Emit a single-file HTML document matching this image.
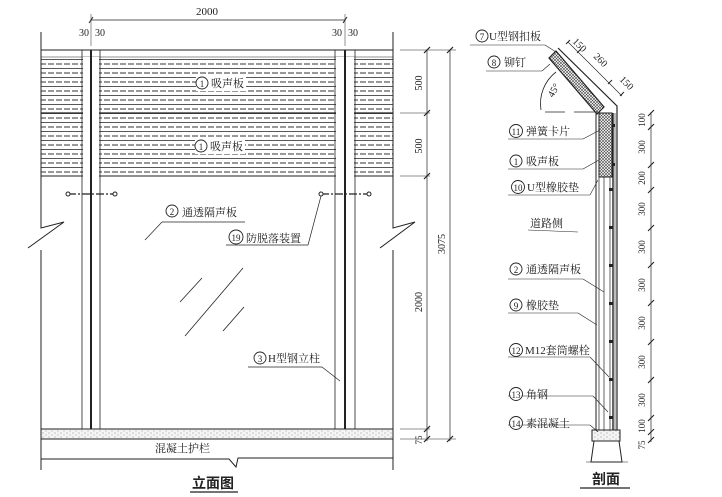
<!DOCTYPE html>
<html><head><meta charset="utf-8"><style>
html,body{margin:0;padding:0;background:#fff}
svg{display:block}
text{font-family:"Liberation Serif","Noto Serif CJK SC","Noto Sans CJK SC",serif;fill:#222}
</style></head><body>
<svg width="722" height="497" viewBox="0 0 722 497" xmlns="http://www.w3.org/2000/svg">
<defs>
<pattern id="hl" width="8" height="9" patternUnits="userSpaceOnUse">
<line x1="0" y1="1" x2="6" y2="1" stroke="#333" stroke-width="1"/>
<line x1="0" y1="5.5" x2="8" y2="5.5" stroke="#444" stroke-width="0.9"/>
</pattern>
<pattern id="xh" width="3" height="3" patternUnits="userSpaceOnUse">
<rect width="3" height="3" fill="#fff"/><path d="M0 0L3 3M3 0L0 3" stroke="#444" stroke-width="0.6"/>
</pattern>
<pattern id="conc" width="6" height="4" patternUnits="userSpaceOnUse">
<rect width="6" height="4" fill="#f4f4f4"/><circle cx="1" cy="1" r="0.5" fill="#777"/><circle cx="4" cy="3" r="0.5" fill="#888"/>
</pattern>
</defs>
<g stroke="#222" fill="none" stroke-width="1">
<rect x="41" y="57" width="352" height="119" fill="url(#hl)" stroke="none"/>
<line x1="41" y1="50" x2="393" y2="50"/>
<line x1="41" y1="57" x2="393" y2="57" stroke-width="0.6"/>
<line x1="41" y1="113" x2="393" y2="113" stroke-width="1.2"/>
<line x1="41" y1="176" x2="393" y2="176"/>
<rect x="196" y="75" width="50" height="16" fill="#fff" stroke="none"/>
<rect x="195" y="138" width="50" height="16" fill="#fff" stroke="none"/>
<polyline points="41,32 41,228 64,222 28,248"/>
<polyline points="41,250 41,470"/>
<polyline points="393,32 393,228 415,222 380,248"/>
<polyline points="393,250 393,470"/>
<line x1="82" y1="50" x2="82" y2="429" stroke-width="0.8"/>
<line x1="91" y1="50" x2="91" y2="429" stroke-width="2"/>
<line x1="100" y1="50" x2="100" y2="429" stroke-width="0.8"/>
<line x1="335" y1="50" x2="335" y2="429" stroke-width="0.8"/>
<line x1="345" y1="50" x2="345" y2="429" stroke-width="2"/>
<line x1="355" y1="50" x2="355" y2="429" stroke-width="0.8"/>
<rect x="83" y="57" width="7" height="343" fill="#fff" stroke="none"/>
<rect x="92" y="57" width="7" height="343" fill="#fff" stroke="none"/>
<rect x="336" y="57" width="8" height="343" fill="#fff" stroke="none"/>
<rect x="346" y="57" width="8" height="343" fill="#fff" stroke="none"/>
<rect x="41" y="429" width="352" height="10" fill="url(#conc)"/>
<polyline points="41,459 229,459 236,467 238,458 393,458"/>
<line x1="68" y1="194" x2="115" y2="194" stroke-dasharray="8,2,2,2" stroke-width="1.3"/>
<circle cx="68" cy="194" r="2" fill="#fff"/><circle cx="115" cy="194" r="2" fill="#fff"/>
<line x1="321" y1="194" x2="369" y2="194" stroke-dasharray="8,2,2,2" stroke-width="1.3"/>
<circle cx="321" cy="194" r="2" fill="#fff"/><circle cx="369" cy="194" r="2" fill="#fff"/>
<line x1="180" y1="302" x2="202" y2="278" stroke-width="0.8"/>
<line x1="185" y1="336" x2="243" y2="268" stroke-width="0.8"/>
<line x1="223" y1="331" x2="244" y2="307" stroke-width="0.8"/>
<line x1="145" y1="240" x2="162" y2="222" stroke-width="0.7"/><line x1="162" y1="222" x2="245" y2="222" stroke-width="0.7"/>
<line x1="226" y1="245" x2="308" y2="245" stroke-width="0.7"/><line x1="308" y1="245" x2="321" y2="196" stroke-width="0.7"/>
<line x1="248" y1="367" x2="322" y2="367" stroke-width="0.7"/><line x1="322" y1="367" x2="340" y2="381" stroke-width="0.7"/>
<line x1="91" y1="20" x2="345" y2="20" stroke-width="0.7"/>
<line x1="89" y1="23" x2="93" y2="17"/><line x1="343" y1="23" x2="347" y2="17"/>
<line x1="91" y1="14" x2="91" y2="46" stroke-width="0.5"/><line x1="345" y1="14" x2="345" y2="46" stroke-width="0.5"/>
<line x1="427" y1="50" x2="427" y2="441" stroke-width="0.7"/>
<line x1="450" y1="50" x2="450" y2="441" stroke-width="0.7"/>
<g stroke-width="1.2">
<line x1="424" y1="53" x2="430" y2="47"/><line x1="424" y1="116" x2="430" y2="110"/><line x1="424" y1="179" x2="430" y2="173"/>
<line x1="424" y1="432" x2="430" y2="426"/><line x1="424" y1="442" x2="430" y2="436"/>
<line x1="447" y1="53" x2="453" y2="47"/><line x1="447" y1="442" x2="453" y2="436"/>
</g>
<line x1="400" y1="50" x2="456" y2="50" stroke-width="0.5"/>
<line x1="400" y1="113" x2="430" y2="113" stroke-width="0.5"/>
<line x1="400" y1="176" x2="430" y2="176" stroke-width="0.5"/>
<line x1="400" y1="429" x2="430" y2="429" stroke-width="0.5"/>
<line x1="400" y1="439" x2="456" y2="439" stroke-width="0.5"/>
<line x1="190" y1="492" x2="238" y2="492" stroke-width="1.2"/>

<!-- SECTION -->
<polygon points="556,51 604,107 597,114 549,58" fill="url(#xh)" stroke-width="1.2"/>
<polyline points="558,48 617,106 617,432" stroke-width="1.2"/>
<line x1="545" y1="112" x2="565" y2="112" stroke-width="0.8"/><line x1="574" y1="112" x2="598" y2="112" stroke-width="0.8"/>
<path d="M 541 110 A 40 40 0 0 1 556 72" stroke-width="0.8"/>
<rect x="599" y="113" width="13" height="64" fill="url(#xh)"/>
<line x1="596" y1="113" x2="596" y2="430"/>
<line x1="599" y1="177" x2="599" y2="430" stroke-width="0.7"/>
<line x1="604" y1="177" x2="604" y2="430" stroke-width="0.7"/>
<line x1="610" y1="177" x2="610" y2="430" stroke-width="0.7"/>
<line x1="613" y1="113" x2="613" y2="430" stroke-width="1.4"/>
<line x1="615" y1="113" x2="615" y2="430" stroke-width="0.6"/>
<g fill="#222" stroke="none">
<rect x="612" y="124" width="3" height="3"/><rect x="612" y="163" width="3" height="3"/><rect x="609" y="188" width="4" height="3"/><rect x="609" y="226" width="4" height="3"/><rect x="609" y="264" width="4" height="3"/><rect x="609" y="302" width="4" height="3"/><rect x="609" y="340" width="4" height="3"/><rect x="609" y="378" width="4" height="3"/><rect x="609" y="416" width="4" height="3"/>
</g>
<rect x="592" y="430" width="28" height="11" fill="url(#conc)"/>
<polyline points="594,441 591,462 622,462 619,441"/>
<line x1="586" y1="462" x2="628" y2="462" stroke-width="0.6"/>
<line x1="580" y1="488" x2="630" y2="488" stroke-width="1.2"/>
<line x1="651" y1="112" x2="651" y2="442" stroke-width="0.7"/>
<g stroke-width="1.1">
<line x1="648" y1="116" x2="654" y2="110"/><line x1="648" y1="130" x2="654" y2="124"/><line x1="648" y1="168" x2="654" y2="162"/><line x1="648" y1="193" x2="654" y2="187"/><line x1="648" y1="231" x2="654" y2="225"/><line x1="648" y1="268" x2="654" y2="262"/><line x1="648" y1="306" x2="654" y2="300"/><line x1="648" y1="345" x2="654" y2="339"/><line x1="648" y1="383" x2="654" y2="377"/><line x1="648" y1="421" x2="654" y2="415"/><line x1="648" y1="435" x2="654" y2="429"/><line x1="648" y1="443" x2="654" y2="437"/>
</g>
<line x1="568" y1="42" x2="622" y2="96" stroke-width="0.6"/>
<line x1="566" y1="44" x2="570" y2="40"/><line x1="577" y1="53" x2="581" y2="49"/><line x1="608" y1="84" x2="612" y2="80"/><line x1="620" y1="96" x2="624" y2="92"/>
<g stroke-width="0.6">
<line x1="470" y1="45" x2="545" y2="45"/><line x1="545" y1="45" x2="556" y2="52"/>
<line x1="486" y1="71" x2="542" y2="71"/><line x1="542" y1="71" x2="550" y2="64"/>
<line x1="508" y1="139" x2="583" y2="139"/><line x1="583" y1="139" x2="600" y2="130"/>
<line x1="508" y1="169" x2="583" y2="169"/><line x1="583" y1="169" x2="599" y2="160"/>
<line x1="508" y1="195" x2="590" y2="195"/><line x1="590" y1="195" x2="598" y2="180"/>
<line x1="528" y1="230" x2="578" y2="232"/>
<line x1="508" y1="279" x2="583" y2="279"/><line x1="583" y1="279" x2="604" y2="292"/>
<line x1="508" y1="313" x2="578" y2="313"/><line x1="578" y1="313" x2="597" y2="325"/>
<line x1="508" y1="357" x2="590" y2="357"/><line x1="590" y1="357" x2="609" y2="377"/>
<line x1="508" y1="396" x2="593" y2="396"/><line x1="593" y1="396" x2="608" y2="412"/>
<line x1="508" y1="425" x2="590" y2="425"/><line x1="590" y1="425" x2="598" y2="432"/>
</g>
<g stroke-width="0.9" fill="#fff">
<circle cx="202" cy="83" r="6"/><circle cx="201" cy="146" r="6"/><circle cx="172" cy="211" r="6"/><circle cx="236" cy="237" r="7"/><circle cx="260" cy="358" r="6"/>
<circle cx="482" cy="36" r="6"/><circle cx="494" cy="62" r="6"/><circle cx="516" cy="131" r="6.5"/><circle cx="516" cy="161" r="6"/><circle cx="518" cy="187" r="6.5"/><circle cx="516" cy="269" r="6"/><circle cx="516" cy="305" r="6"/><circle cx="516" cy="350" r="6.5"/><circle cx="516" cy="394" r="6.5"/><circle cx="516" cy="423" r="6.5"/>
</g>
</g>
<g font-size="10">
<text x="207" y="15" font-size="11" text-anchor="middle">2000</text>
<text x="79" y="36">30</text><text x="95" y="36">30</text>
<text x="332" y="36">30</text><text x="348" y="36">30</text>
<text x="202" y="87" text-anchor="middle" font-size="9">1</text><text x="211" y="87" font-size="11">吸声板</text>
<text x="201" y="150" text-anchor="middle" font-size="9">1</text><text x="210" y="150" font-size="11">吸声板</text>
<text x="172" y="215" text-anchor="middle" font-size="9">2</text><text x="182" y="216" font-size="11">通透隔声板</text>
<text x="236" y="241" text-anchor="middle" font-size="9">19</text><text x="246" y="242" font-size="11">防脱落装置</text>
<text x="260" y="362" text-anchor="middle" font-size="9">3</text><text x="268" y="362" font-size="11">H型钢立柱</text>
<text x="155" y="452" font-size="11">混凝土护栏</text>
<text x="192" y="488" font-size="14" font-weight="bold" style="font-family:'Noto Sans CJK SC',sans-serif">立面图</text>
<text transform="translate(422,83) rotate(-90)" text-anchor="middle">500</text>
<text transform="translate(422,146) rotate(-90)" text-anchor="middle">500</text>
<text transform="translate(422,302) rotate(-90)" text-anchor="middle">2000</text>
<text transform="translate(445,244) rotate(-90)" text-anchor="middle">3075</text>
<text transform="translate(422,440) rotate(-90)" text-anchor="middle" font-size="9">75</text>

<text x="482" y="40" text-anchor="middle" font-size="9">7</text><text x="489" y="40" font-size="11">U型钢扣板</text>
<text x="494" y="66" text-anchor="middle" font-size="9">8</text><text x="504" y="66" font-size="11">铆钉</text>
<text x="516" y="135" text-anchor="middle" font-size="9">11</text><text x="526" y="135" font-size="11">弹簧卡片</text>
<text x="516" y="165" text-anchor="middle" font-size="9">1</text><text x="526" y="165" font-size="11">吸声板</text>
<text x="518" y="191" text-anchor="middle" font-size="9">10</text><text x="527" y="191" font-size="11">U型橡胶垫</text>
<text x="530" y="227" font-size="11">道路侧</text>
<text x="516" y="273" text-anchor="middle" font-size="9">2</text><text x="526" y="273" font-size="11">通透隔声板</text>
<text x="516" y="309" text-anchor="middle" font-size="9">9</text><text x="526" y="309" font-size="11">橡胶垫</text>
<text x="516" y="354" text-anchor="middle" font-size="9">12</text><text x="525" y="354" font-size="11">M12套筒螺栓</text>
<text x="516" y="398" text-anchor="middle" font-size="9">13</text><text x="526" y="398" font-size="11">角钢</text>
<text x="516" y="427" text-anchor="middle" font-size="9">14</text><text x="526" y="427" font-size="11">素混凝土</text>
<text x="592" y="484" font-size="14" font-weight="bold" style="font-family:'Noto Sans CJK SC',sans-serif">剖面</text>
<text transform="translate(572,42) rotate(45)" font-size="10">150</text>
<text transform="translate(593,57) rotate(45)" font-size="10">260</text>
<text transform="translate(619,80) rotate(45)" font-size="10">150</text>
<text transform="translate(553,98) rotate(-60)" font-size="10">45°</text>
<g font-size="9">
<text transform="translate(645,120) rotate(-90)" text-anchor="middle">100</text>
<text transform="translate(645,147) rotate(-90)" text-anchor="middle">300</text>
<text transform="translate(645,178) rotate(-90)" text-anchor="middle">200</text>
<text transform="translate(645,209) rotate(-90)" text-anchor="middle">300</text>
<text transform="translate(645,247) rotate(-90)" text-anchor="middle">300</text>
<text transform="translate(645,285) rotate(-90)" text-anchor="middle">300</text>
<text transform="translate(645,323) rotate(-90)" text-anchor="middle">300</text>
<text transform="translate(645,362) rotate(-90)" text-anchor="middle">300</text>
<text transform="translate(645,400) rotate(-90)" text-anchor="middle">300</text>
<text transform="translate(645,426) rotate(-90)" text-anchor="middle">100</text>
<text transform="translate(645,445) rotate(-90)" text-anchor="middle">75</text>
</g>
</g>
</svg>
</body></html>
